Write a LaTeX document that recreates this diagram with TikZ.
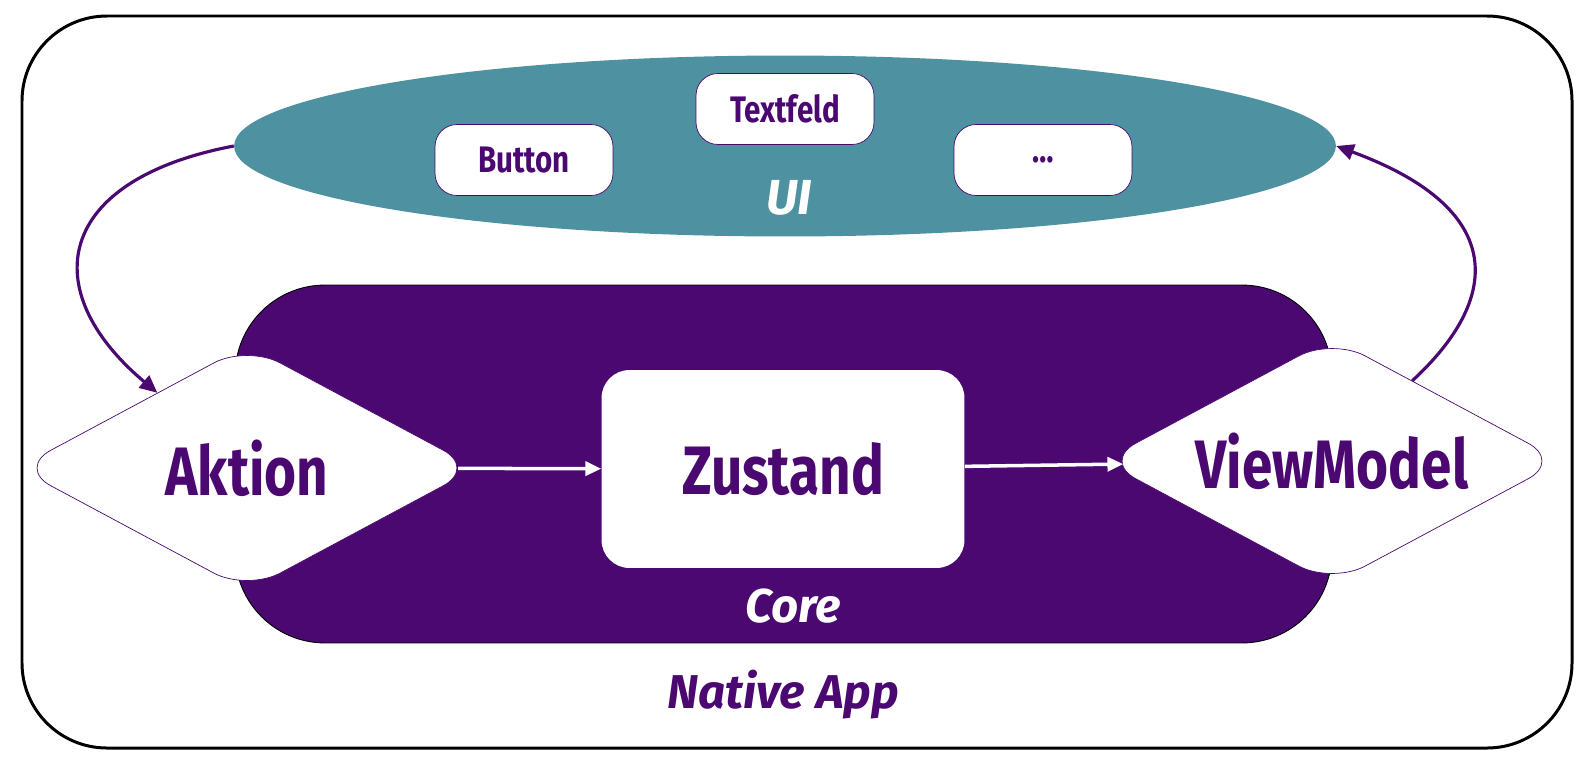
\documentclass[tikz,border=0pt]{standalone}
\usepackage{fontspec}
\setmainfont{Fira Sans}
\newfontfamily\narrowfont{Fira Sans}[FakeStretch=0.8]
\usepackage{tikz}
\usetikzlibrary{arrows.meta,shapes}
\definecolor{appviolet}{RGB}{74,8,112}
\definecolor{uiteal}{RGB}{78,145,160}
\tikzstyle{widget}=[rectangle, rounded corners=0.44cm
%,draw=black
,draw=appviolet, line width=0.4pt, fill=white
,minimum width=3.56cm, minimum height=1.42cm
,text=appviolet, font=\narrowfont\bfseries\fontsize{21}{24}\selectfont
]
\tikzstyle{decision}=[diamond, aspect=1.87, rounded corners=0.75cm
,draw=appviolet, line width=0.4pt, fill=white
,minimum width=9.18cm, minimum height=4.92cm, inner sep=0pt
,text=appviolet, font=\narrowfont\bfseries\fontsize{39}{44}\selectfont
]
\tikzstyle{statebox}=[decision, rectangle, draw=none, rounded corners=0.56cm
,minimum width=7.26cm, minimum height=3.96cm]
\tikzstyle{layer}=[rectangle, draw=black, line width=0.5pt, fill=appviolet
,rounded corners=1.8cm, minimum width=21.94cm, minimum height=7.16cm]
\tikzstyle{layer label}=[font=\bfseries\itshape\fontsize{27}{30}\selectfont]
\tikzstyle{flow}=[draw=appviolet, line width=1.8pt, -{Triangle[length=10pt,width=9pt]}]
\tikzstyle{inner flow}=[draw=white, line width=2pt, -{Triangle[length=9pt,width=8pt]}]

\begin{document}
\begin{tikzpicture}[x=0.02cm, y=-0.02cm]
    \useasboundingbox (0,0) rectangle (1595,768);
    % The native app frame
    \draw[line width=1.7pt, rounded corners=1.7cm] (22,16) rectangle (1572,748);
    \node[layer label, text=appviolet] (native) at (783,695) {Native App};

    % UI with its widgets
    \node[ellipse, fill=uiteal, minimum width=22.04cm, minimum height=3.62cm, inner sep=0pt] (ui) at (785,146) {};
    \node[layer label, font=\bfseries\itshape\fontsize{28}{30}\selectfont, text=white] (uilabel) at (789,198) {UI};
    \foreach \pos/\name/\txt in {{(524,160)/button/Button}, {(785,109)/textfeld/Textfeld}, {(1043,160)/more/{\dots}}}
        \node[widget] (\name) at \pos {\txt};

    % Core with action, state and view model
    \node[layer] (core) at (783.5,464) {};
    \node[layer label, text=white] (corelabel) at (793,606) {Core};
    \node[decision] (aktion) at (247,468) {Aktion};
    \node[statebox] (zustand) at (783,469) {Zustand};
    \node[decision] (viewmodel) at (1332,461) {ViewModel};

    % Connect them (the rounded tips sit inside the diamond border)
    \foreach \source/ \dest/\from/\to in {aktion/zustand/-0.36cm/0cm, zustand/viewmodel/0cm/-0.3cm}
        \path[inner flow, shorten <=\from, shorten >=\to] (\source) -- (\dest);
    \path[flow] (ui.west) .. controls (55,180) and (35,290) .. (aktion.140);
    \path[flow] (viewmodel.45) .. controls (1500,300) and (1510,210) .. (ui.east);
\end{tikzpicture}
\end{document}
